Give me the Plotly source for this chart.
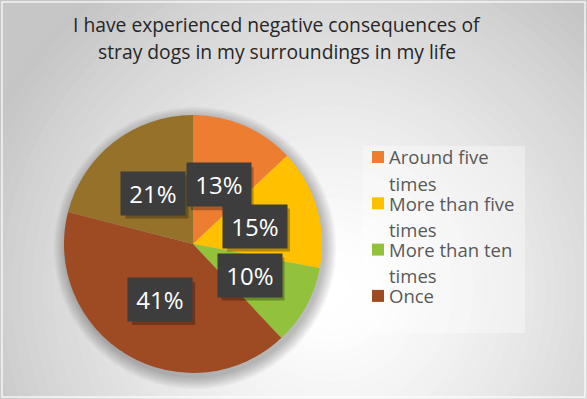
import math
import plotly.graph_objects as go

# Survey answers and their shares (%)
categories = ["Around five times", "More than five times", "More than ten times", "Once", "Never"]
shares = [13, 15, 10, 41, 21]
colors = ["#ED7D31", "#FFC000", "#92C13B", "#9E4A22", "#95712A"]
legend_items = categories[:4]

W, H = 587, 399
title_lines = ["I have experienced negative consequences of",
               "stray dogs in my surroundings in my life"]
FONT = "Open Sans"

# pie placement (pixels)
CX, CY, R = 193, 244, 129
BADGE_W, BADGE_H = 62, 41


def px_x(x):
    return x / W


def px_y(y):
    return 1 - y / H


shapes = []

# soft radial background: light centre fading to grey edges
GX, GY = 330, 290
steps = 36
rmax = 360
for i in range(steps):
    t = 1 - i / (steps - 1)
    r = 20 + t * rmax
    v = int(round(255 - 58 * (t ** 1.3)))
    c = f"rgb({v},{v},{v})"
    shapes.append(dict(type="circle", xref="paper", yref="paper",
                       x0=px_x(GX - r), x1=px_x(GX + r),
                       y0=px_y(GY + r), y1=px_y(GY - r),
                       fillcolor=c, line=dict(width=0), layer="below"))

# thin outer frame
shapes.append(dict(type="rect", xref="paper", yref="paper",
                   x0=px_x(2), x1=px_x(585), y0=px_y(397), y1=px_y(2),
                   line=dict(color="rgba(255,255,255,0.8)", width=1.5),
                   fillcolor="rgba(0,0,0,0)", layer="below"))

# soft shadow under the pie
for k in range(8):
    rr = R + 1 + k * 1.6
    shapes.append(dict(type="circle", xref="paper", yref="paper",
                       x0=px_x(CX + 2 - rr), x1=px_x(CX + 2 + rr),
                       y0=px_y(CY + 4 + rr), y1=px_y(CY + 4 - rr),
                       fillcolor="rgba(0,0,0,0.035)", line=dict(width=0), layer="below"))

# legend panel
shapes.append(dict(type="rect", xref="paper", yref="paper",
                   x0=px_x(363), x1=px_x(525), y0=px_y(333), y1=px_y(146),
                   fillcolor="rgba(255,255,255,0.35)", line=dict(width=0), layer="below"))

fig = go.Figure()
fig.add_trace(go.Pie(
    labels=categories, values=shares, sort=False, direction="clockwise",
    rotation=0, marker=dict(colors=colors, line=dict(width=0)),
    textinfo="none", hoverinfo="label+percent", showlegend=False,
    domain=dict(x=[px_x(CX - R), px_x(CX + R)], y=[px_y(CY + R), px_y(CY - R)]),
))

annotations = []

# two-line title
for k, line in enumerate(title_lines):
    annotations.append(dict(x=px_x(277), y=px_y(24 + k * 27.5), xref="paper", yref="paper",
                            text=line, showarrow=False, xanchor="center", yanchor="middle",
                            font=dict(size=19.3, color="#262626", family=FONT)))

# percentage badges placed at half radius along each slice's mid-angle
total = sum(shares)
cum = 0
for v in shares:
    mid = (cum + v / 2) / total * 2 * math.pi
    cum += v
    lx = CX + 0.5 * R * math.sin(mid)
    ly = CY - 0.5 * R * math.cos(mid)
    txt = f"{round(v / total * 100)}%"
    # drop shadow behind the badge
    shapes.append(dict(type="rect", xref="paper", yref="paper", layer="above",
                       x0=px_x(lx - BADGE_W / 2 + 3), x1=px_x(lx + BADGE_W / 2 + 4),
                       y0=px_y(ly + BADGE_H / 2 + 5), y1=px_y(ly - BADGE_H / 2 + 3),
                       fillcolor="rgba(0,0,0,0.28)", line=dict(width=0)))
    annotations.append(dict(x=px_x(lx), y=px_y(ly), xref="paper", yref="paper",
                            text=txt, showarrow=False, width=BADGE_W, height=BADGE_H,
                            xanchor="center", yanchor="middle",
                            bgcolor="#3d3d3d", font=dict(size=24, color="white", family=FONT)))


def wrap(text, limit=14):
    lines, cur = [], ""
    for w in text.split():
        cand = (cur + " " + w).strip()
        if len(cand) > limit and cur:
            lines.append(cur)
            cur = w
        else:
            cur = cand
    lines.append(cur)
    return lines


# legend entries
LX, LY0, ENTRY_GAP, LINE_GAP = 372, 157, 46.3, 26
for i, name in enumerate(legend_items):
    y0 = LY0 + i * ENTRY_GAP
    shapes.append(dict(type="rect", xref="paper", yref="paper",
                       x0=px_x(LX), x1=px_x(LX + 12), y0=px_y(y0 + 6), y1=px_y(y0 - 6),
                       fillcolor=colors[i], line=dict(width=0)))
    for j, line in enumerate(wrap(name)):
        annotations.append(dict(x=px_x(LX + 15), y=px_y(y0 + j * LINE_GAP), xref="paper", yref="paper",
                                text=line, showarrow=False, xanchor="left", yanchor="middle",
                                font=dict(size=18.5, color="#595959", family=FONT)))

fig.update_layout(
    width=W, height=H,
    margin=dict(l=0, r=0, t=0, b=0),
    paper_bgcolor="#c6c6c6", plot_bgcolor="rgba(0,0,0,0)",
    shapes=shapes, annotations=annotations,
)

fig.write_html("out.html")
